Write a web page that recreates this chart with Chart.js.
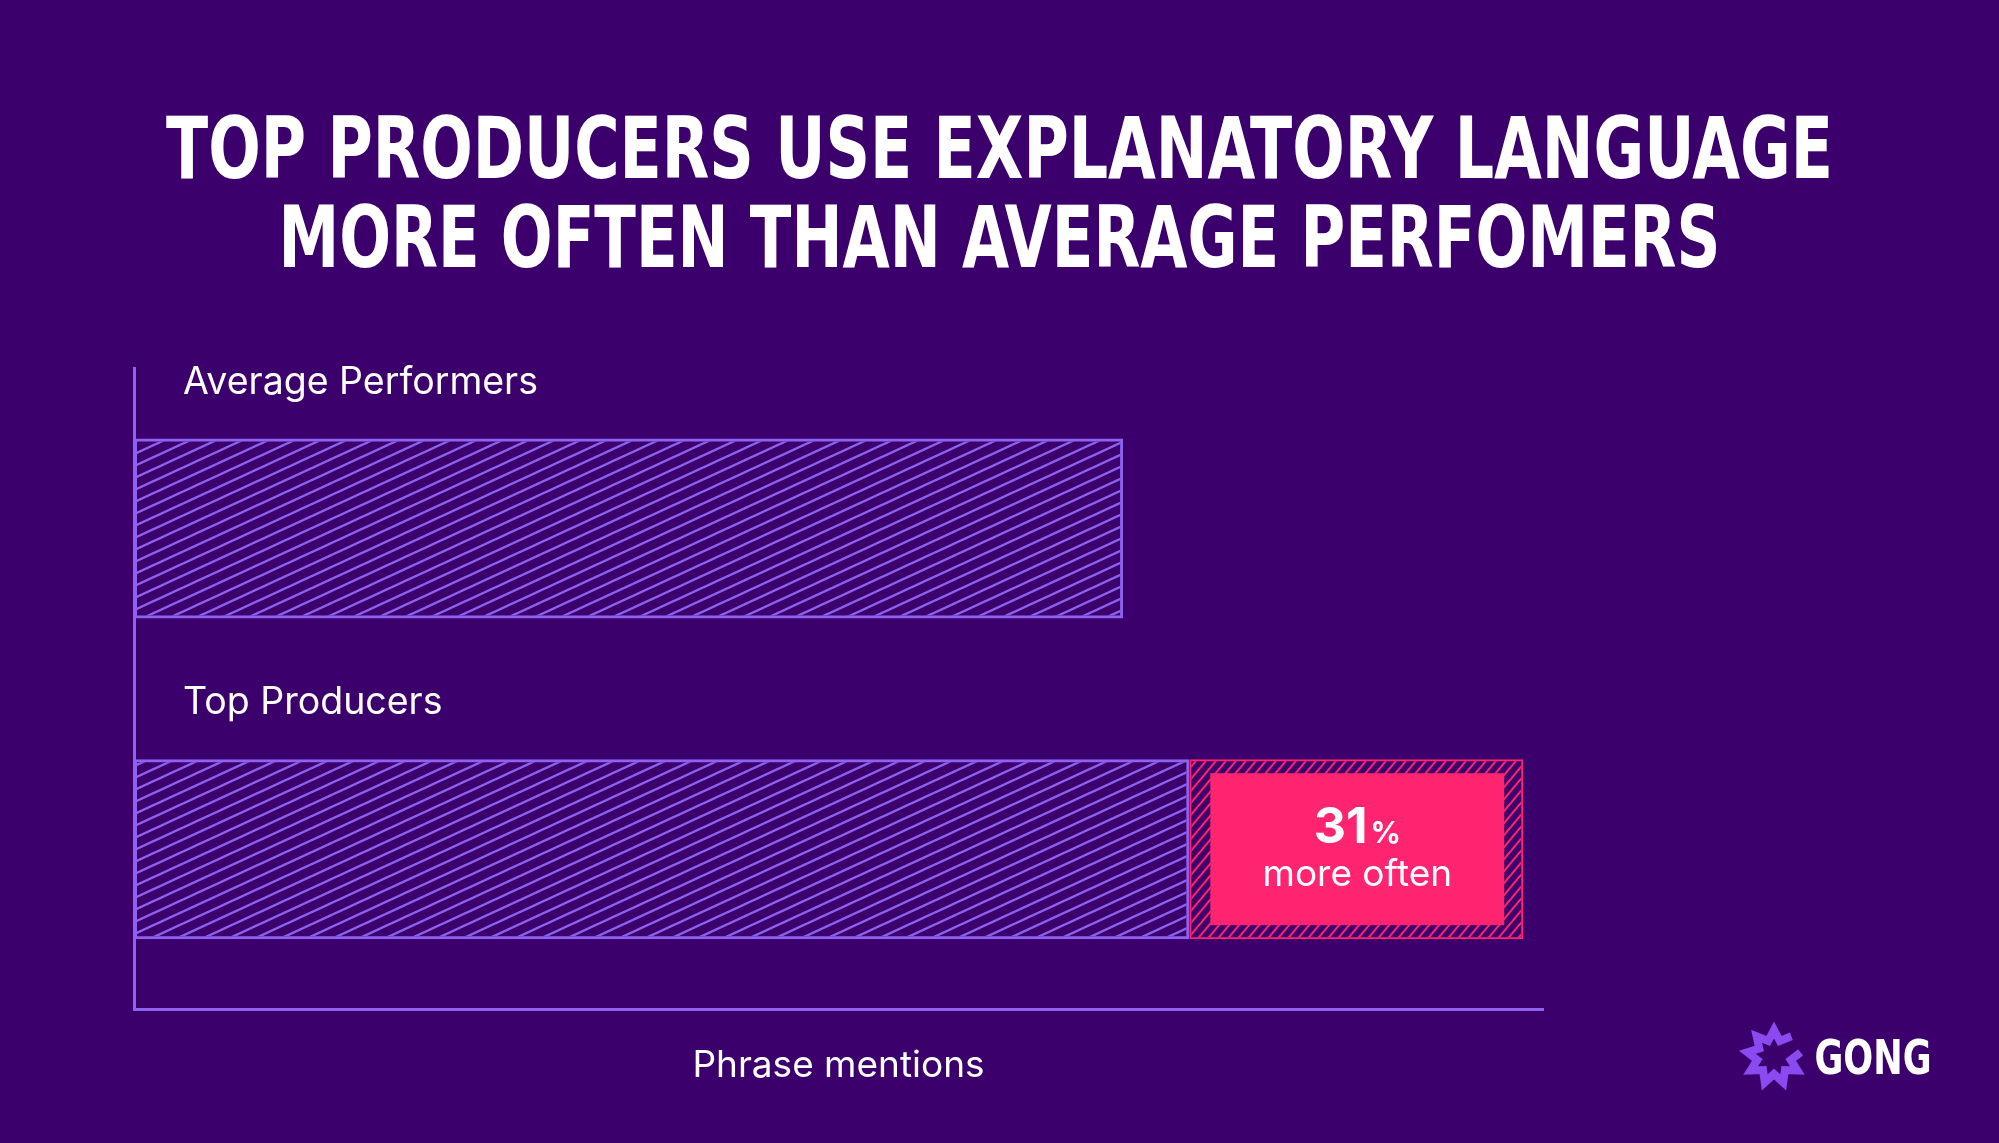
<!DOCTYPE html>
<html>
<head>
<meta charset="utf-8">
<script src="https://cdn.jsdelivr.net/npm/chart.js@4.4.1/dist/chart.umd.min.js"></script>
<style>
    html, body { margin: 0; padding: 0; background: #3c006c; overflow: hidden; }
    #wrap { position: relative; width: 1999px; height: 1143px; }
</style>
</head>
<body>
<div id="wrap"><canvas id="chart" width="1999" height="1143"></canvas></div>
<script>
// Data (phrase mentions, arbitrary units on a 0-100 axis)
const categories = ['Average Performers', 'Top Producers'];
const baseMentions = [70.2, 74.9];
const extraMentions = [null, 23.7];
const calloutNumber = '31';
const calloutUnit = '%';
const calloutText = 'more often';
const axisTitle = 'Phrase mentions';
const titleLines = ['TOP PRODUCERS USE EXPLANATORY LANGUAGE', 'MORE OFTEN THAN AVERAGE PERFOMERS'];

const BG = '#3c006c';
const PURPLE = '#8d62ee';
const PINK = '#ff2470';
const TEXT_FONT = "'Inter', 'Noto Sans', sans-serif";
const TITLE_FONT = "'Liberation Sans Narrow', 'DejaVu Sans Condensed', 'Liberation Sans', sans-serif";

const canvas = document.getElementById('chart');
const mainCtx = canvas.getContext('2d');

// diagonal hatch tile: lines rise h over w
function hatch(color, w, h, lw) {
    const c = document.createElement('canvas');
    c.width = w;
    c.height = h;
    const g = c.getContext('2d');
    g.strokeStyle = color;
    g.lineWidth = lw;
    for (let k = -2; k <= 2; k++) {
        g.beginPath();
        g.moveTo(-w, 2 * h + k * h);
        g.lineTo(2 * w, -h + k * h);
        g.stroke();
    }
    return mainCtx.createPattern(c, 'repeat');
}

const purpleHatch = hatch(PURPLE, 26, 12, 2.4);
const pinkHatch = hatch(PINK, 10, 12, 2);

// draws text squeezed/stretched to a given width
function fitText(ctx, text, cx, baseline, width, font) {
    ctx.font = font;
    const m = ctx.measureText(text).width;
    ctx.save();
    ctx.translate(cx, baseline);
    ctx.scale(width / m, 1);
    ctx.textAlign = 'center';
    ctx.textBaseline = 'alphabetic';
    ctx.fillText(text, 0, 0);
    ctx.restore();
}

const decorPlugin = {
    id: 'decor',
    beforeDraw(chart) {
        const ctx = chart.ctx;
        ctx.save();
        ctx.fillStyle = BG;
        ctx.fillRect(0, 0, chart.width, chart.height);
        ctx.restore();
    },
    afterDraw(chart) {
        const ctx = chart.ctx;
        const area = chart.chartArea;
        ctx.save();
        ctx.fillStyle = '#ffffff';

        // Title
        fitText(ctx, titleLines[0], chart.width / 2, 178, 1667, `bold 86px ${TITLE_FONT}`);
        fitText(ctx, titleLines[1], chart.width / 2, 267, 1442, `bold 86px ${TITLE_FONT}`);

        // Category labels above each bar
        const baseMeta = chart.getDatasetMeta(0);
        ctx.font = `37.5px ${TEXT_FONT}`;
        ctx.textAlign = 'left';
        ctx.textBaseline = 'middle';
        baseMeta.data.forEach((bar, i) => {
            const p = bar.getProps(['y', 'height'], true);
            ctx.fillText(categories[i], area.left + 49, p.y - p.height / 2 - 56);
        });

        // Callout box inside the extra segment
        const extraMeta = chart.getDatasetMeta(1);
        extraMeta.data.forEach((bar, i) => {
            if (extraMentions[i] == null) return;
            const p = bar.getProps(['x', 'y', 'base', 'height'], true);
            const left = p.base + 21;
            const right = p.x - 19;
            const top = p.y - p.height / 2 + 14;
            const bottom = p.y + p.height / 2 - 14;
            ctx.fillStyle = PINK;
            ctx.fillRect(left, top, right - left, bottom - top);

            const cx = (left + right) / 2;
            ctx.fillStyle = '#ffffff';
            ctx.textBaseline = 'alphabetic';
            const bigFont = `bold 50px ${TEXT_FONT}`;
            const smallFont = `bold 30px ${TEXT_FONT}`;
            ctx.font = bigFont;
            const wNum = ctx.measureText(calloutNumber).width;
            ctx.font = smallFont;
            const wUnit = ctx.measureText(calloutUnit).width;
            const startX = cx - (wNum + wUnit + 3) / 2;
            ctx.textAlign = 'left';
            ctx.font = bigFont;
            ctx.fillText(calloutNumber, startX, p.y - 6);
            ctx.font = smallFont;
            ctx.fillText(calloutUnit, startX + wNum + 3, p.y - 6);
            ctx.font = `37px ${TEXT_FONT}`;
            ctx.textAlign = 'center';
            ctx.fillText(calloutText, cx, p.y + 37);
        });

        // Gong logo (starburst + wordmark)
        const sx = 1774, sy = 1057;
        const spikes = 8;
        ctx.beginPath();
        for (let j = 0; j <= spikes * 2; j++) {
            const a = (-10 + (j / (spikes * 2)) * 320) * Math.PI / 180;
            const r = j % 2 === 0 ? 27 : 17;
            const px = sx + r * Math.cos(a);
            const py = sy + r * Math.sin(a);
            if (j === 0) ctx.moveTo(px, py); else ctx.lineTo(px, py);
        }
        ctx.strokeStyle = '#8a4af0';
        ctx.lineWidth = 8;
        ctx.lineJoin = 'miter';
        ctx.stroke();
        ctx.fillStyle = '#ffffff';
        fitText(ctx, 'GONG', 1873, 1074, 117, `bold 48px ${TITLE_FONT}`);

        ctx.restore();
    }
};

new Chart(canvas, {
    type: 'bar',
    data: {
        labels: categories,
        datasets: [
            {
                label: 'Base',
                data: baseMentions,
                backgroundColor: purpleHatch,
                borderColor: PURPLE,
                borderWidth: 3,
                borderSkipped: false,
                categoryPercentage: 1,
                barPercentage: 0.561
            },
            {
                label: 'Extra',
                data: extraMentions,
                backgroundColor: pinkHatch,
                borderColor: PINK,
                borderWidth: 2,
                borderSkipped: false,
                categoryPercentage: 1,
                barPercentage: 0.561
            }
        ]
    },
    options: {
        indexAxis: 'y',
        responsive: false,
        animation: false,
        devicePixelRatio: 1,
        layout: {
            padding: { left: 126, right: 456, top: 368, bottom: 55 }
        },
        plugins: {
            legend: { display: false },
            tooltip: { enabled: false }
        },
        scales: {
            x: {
                stacked: true,
                min: 0,
                max: 100,
                grid: { display: false },
                ticks: { display: false },
                border: { display: true, color: PURPLE, width: 3 },
                title: {
                    display: true,
                    text: axisTitle,
                    color: '#ffffff',
                    font: { family: TEXT_FONT, size: 37 },
                    padding: { top: 26, bottom: 0 }
                }
            },
            y: {
                stacked: true,
                grid: { display: false },
                ticks: { display: false },
                border: { display: true, color: PURPLE, width: 3 }
            }
        }
    },
    plugins: [decorPlugin]
});
</script>
</body>
</html>
